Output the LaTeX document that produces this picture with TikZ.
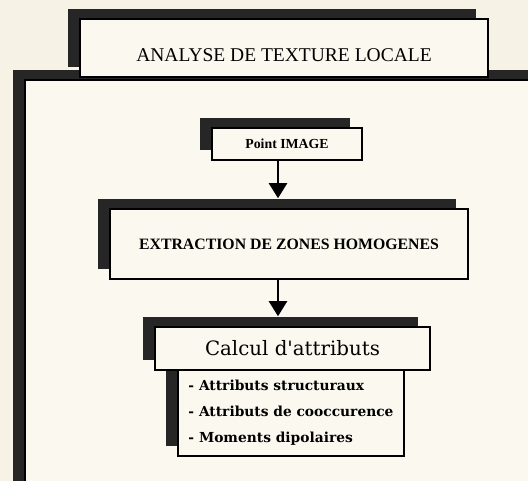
\documentclass[tikz,border=0pt]{standalone}
\usepackage{fontspec}
\setmainfont{Liberation Serif}
\newfontfamily\wideserif{DejaVu Serif}
\usepackage{tikz}
\usetikzlibrary{arrows.meta}
\usetikzlibrary{shadows}

\definecolor{paper}{HTML}{F6F3E6}
\definecolor{boxfill}{HTML}{FAF8EF}
\definecolor{shade}{HTML}{262626}

\tikzset{
  panel/.style={draw=black, line width=1.5pt, fill=boxfill, inner sep=0pt,
    drop shadow={shadow xshift=-12pt, shadow yshift=10pt, opacity=1, fill=shade}},
  flow/.style={line width=2.2pt, -{Triangle[width=18pt,length=15pt]}},
}

\begin{document}
\begin{tikzpicture}[x=1pt, y=-1pt]
\clip (0,0) rectangle (528,481);
\fill[paper] (0,0) rectangle (528,481);

% --- OUTER FRAME (runs off the page) ---
\node[panel, minimum width=600pt, minimum height=500pt] (frame) at (325,330) {};

% --- TITLE ---
\node[panel, minimum width=408pt, minimum height=58pt, text height=28pt, text depth=0pt,
      font=\fontsize{19.5}{22}\selectfont] (title) at (284,48) {ANALYSE DE TEXTURE LOCALE};

% --- PROCESSING CHAIN ---
\node[panel, minimum width=150pt, minimum height=32pt, font=\bfseries\fontsize{13.8}{16}\selectfont]
    (point) at (287,144) {Point IMAGE};
\node[panel, minimum width=358pt, minimum height=70pt, font=\bfseries\fontsize{15.8}{18}\selectfont]
    (extr) at (289,244) {EXTRACTION DE ZONES HOMOGENES};

% attribute list first, so the heading box hides the top of its shadow
\node[panel, minimum width=226pt, minimum height=86pt, align=left,
      font=\wideserif\bfseries\fontsize{13.8}{26}\selectfont] (attr) at (291,413)
    {- Attributs structuraux\\- Attributs de cooccurence\\- Moments dipolaires};
\node[panel, minimum width=275pt, minimum height=43pt, font=\wideserif\fontsize{19.8}{22}\selectfont]
    (calc) at (292.5,348.5) {Calcul d'attributs};

% --- ARROWS ---
\coordinate (a1) at ([xshift=-9pt]point.south);
\coordinate (t1) at ([yshift=10pt]extr.north);
\draw[flow] (a1) -- (a1 |- t1);

\coordinate (a2) at ([xshift=-11pt]extr.south);
\coordinate (t2) at ([yshift=10pt]calc.north);
\draw[flow] (a2) -- (a2 |- t2);

\end{tikzpicture}
\end{document}
